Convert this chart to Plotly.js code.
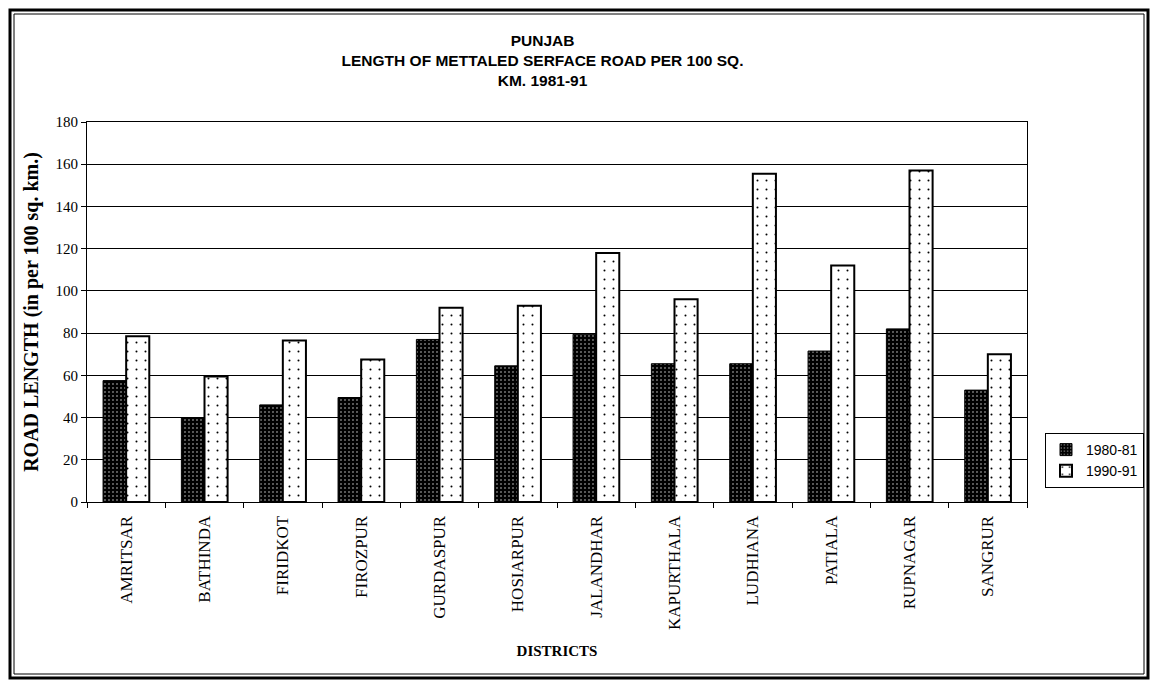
<!DOCTYPE html>
<html>
<head>
<meta charset="utf-8">
<script src="https://cdn.plot.ly/plotly-3.0.1.min.js"></script>
<style>
html,body{margin:0;padding:0;background:#fff;}
#chart{width:1157px;height:680px;}
</style>
</head>
<body>
<div id="chart"></div>
<script>
const districts = ["AMRITSAR","BATHINDA","FIRIDKOT","FIROZPUR","GURDASPUR","HOSIARPUR","JALANDHAR","KAPURTHALA","LUDHIANA","PATIALA","RUPNAGAR","SANGRUR"];
const y1980 = [57.5, 40, 46, 49.5, 77, 64.5, 79.5, 65.5, 65.5, 71.5, 82, 53];
const y1990 = [78.5, 59.5, 76.5, 67.5, 92, 93, 118, 96, 155.5, 112, 157, 70];
const yTicks = [0,20,40,60,80,100,120,140,160,180];

const serif = "Liberation Serif, Times New Roman, serif";
const sans = "Liberation Sans, Arial, sans-serif";

const traces = [
  {
    type: "bar", name: "1980-81", x: districts, y: y1980,
    marker: {
      color: "#000",
      line: {color: "#000", width: 1},
      pattern: {shape: ".", fgcolor: "#fff", bgcolor: "#000", size: 4, solidity: 0.08, fillmode: "replace"}
    }
  },
  {
    type: "bar", name: "1990-91", x: districts, y: y1990,
    marker: {
      color: "#fff",
      line: {color: "#000", width: 2},
      pattern: {shape: ".", fgcolor: "#000", bgcolor: "#fff", size: 9, solidity: 0.04, fillmode: "replace"}
    }
  }
];

// plot area: x 87..1027, y 122..502
function px(x){return (x-87)/940;}
function py(y){return (502-y)/380;}

const layout = {
  width: 1157, height: 680,
  margin: {l: 87, r: 130, t: 122, b: 178},
  paper_bgcolor: "#fff", plot_bgcolor: "#fff",
  barmode: "group", bargap: 0.41, bargroupgap: 0,
  showlegend: true,
  title: {
    text: "<b>PUNJAB<br>LENGTH OF METTALED SERFACE ROAD PER 100 SQ.<br>KM. 1981-91</b>",
    font: {family: sans, size: 15.5, color: "#000"},
    x: 0.4846, xref: "paper", xanchor: "center",
    y: 1 - 46/680, yref: "container", yanchor: "top"
  },
  xaxis: {
    type: "category",
    tickangle: -90,
    tickfont: {family: serif, size: 17, color: "#000"},
    ticks: "outside", ticklen: 5, tickcolor: "#000", tickson: "boundaries",
    ticklabelstandoff: 6,
    showline: true, linecolor: "#000", linewidth: 1, mirror: true,
    showgrid: false,
    title: {text: "<b>DISTRICTS</b>", font: {family: serif, size: 15, color: "#000"}, standoff: 16}
  },
  yaxis: {
    range: [0, 180],
    tickvals: yTicks,
    ticktext: yTicks.map(String),
    tickfont: {family: serif, size: 15, color: "#000"},
    ticks: "outside", ticklen: 5, tickcolor: "#000",
    showline: true, linecolor: "#000", linewidth: 1, mirror: true,
    showgrid: true, gridcolor: "#000", gridwidth: 1,
    zeroline: false,
    title: {text: "<b>ROAD LENGTH (in per 100 sq. km.)</b>", font: {family: serif, size: 20, color: "#000"}, standoff: 11}
  },
  legend: {
    x: px(1045), xanchor: "left", y: py(433), yanchor: "top",
    bordercolor: "#000", borderwidth: 1, bgcolor: "#fff",
    font: {family: sans, size: 14, color: "#000"},
    itemwidth: 30, tracegroupgap: 2
  },
  shapes: [
    {type: "rect", xref: "paper", yref: "paper", x0: px(10), x1: px(1148), y0: py(678), y1: py(10), line: {color: "#000", width: 3}},
    {type: "rect", xref: "paper", yref: "paper", x0: px(14), x1: px(1144), y0: py(674), y1: py(14), line: {color: "#000", width: 1}}
  ]
};

Plotly.newPlot("chart", traces, layout, {displayModeBar: false, staticPlot: true});
</script>
</body>
</html>
